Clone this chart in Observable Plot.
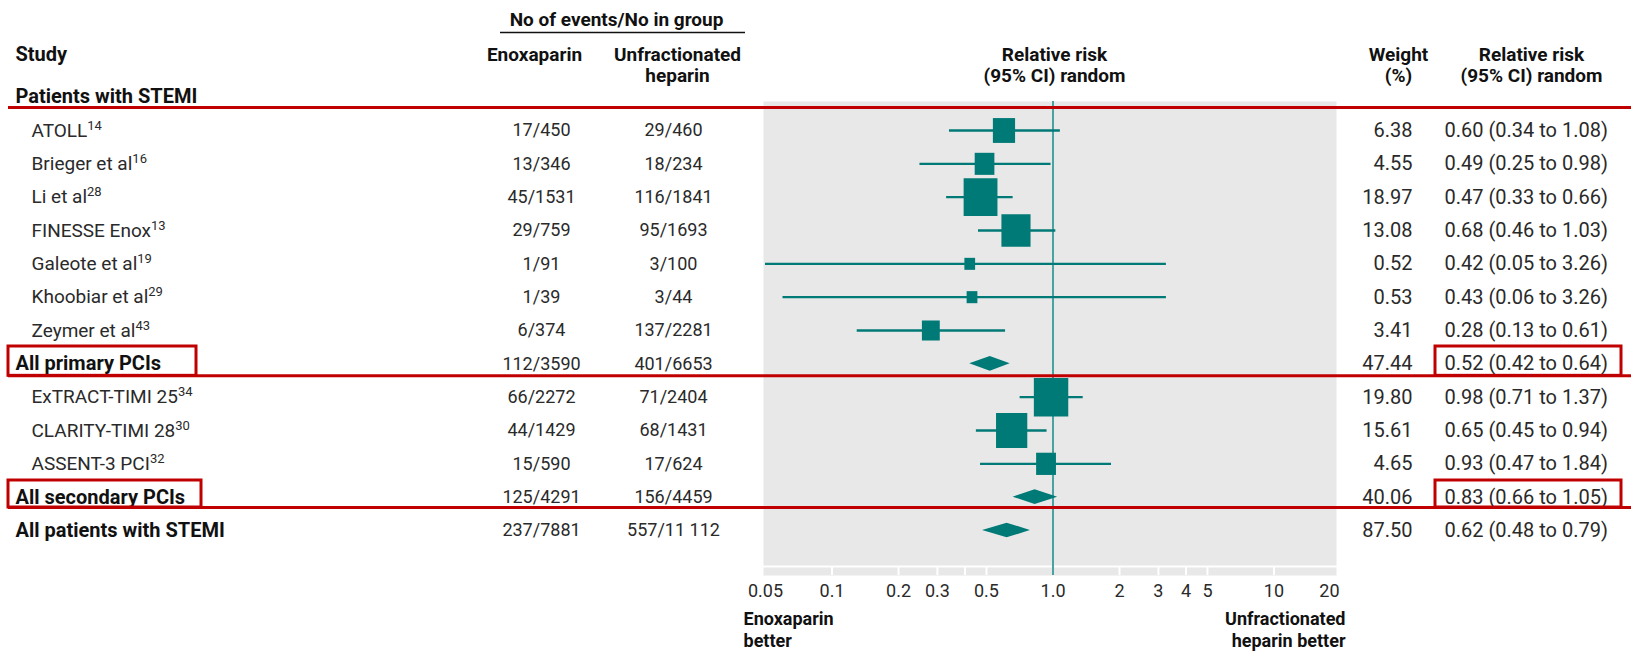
<!DOCTYPE html>
<html><head><meta charset="utf-8">
<script src="https://cdn.jsdelivr.net/npm/d3@7"></script>
<script src="https://cdn.jsdelivr.net/npm/@observablehq/plot@0.6"></script>
<style>
body{margin:0;background:#fff;}
#chart svg text{font-family:Roboto,"DejaVu Sans",sans-serif;}
</style></head><body><div id="chart"></div>
<script>
// ---- data ----
const studies = ["ATOLL","Brieger et al","Li et al","FINESSE Enox","Galeote et al","Khoobiar et al","Zeymer et al","All primary PCIs","ExTRACT-TIMI 25","CLARITY-TIMI 28","ASSENT-3 PCI","All secondary PCIs","All patients with STEMI"];
const refs = ["14","16","28","13","19","29","43","","34","30","32","",""];
const enoxEvents = ["17/450","13/346","45/1531","29/759","1/91","1/39","6/374","112/3590","66/2272","44/1429","15/590","125/4291","237/7881"];
const ufhEvents = ["29/460","18/234","116/1841","95/1693","3/100","3/44","137/2281","401/6653","71/2404","68/1431","17/624","156/4459","557/11 112"];
const weights = [6.38,4.55,18.97,13.08,0.52,0.53,3.41,47.44,19.80,15.61,4.65,40.06,87.50];
const rr = [0.60,0.49,0.47,0.68,0.42,0.43,0.28,0.52,0.98,0.65,0.93,0.83,0.62];
const lo = [0.34,0.25,0.33,0.46,0.05,0.06,0.13,0.42,0.71,0.45,0.47,0.66,0.48];
const hi = [1.08,0.98,0.66,1.03,3.26,3.26,0.61,0.64,1.37,0.94,1.84,1.05,0.79];
const pooled = [false,false,false,false,false,false,false,true,false,false,false,true,true];
const tickValues = [0.05,0.1,0.2,0.3,0.5,1,2,3,4,5,10,20];
const tickLabels = ["0.05","0.1","0.2","0.3","0.5","1.0","2","3","4","5","10","20"];
const gapTicks = [0.1,0.2,0.3,0.4,0.5,2,3,4,5,10];

// ---- build ----
const teal = "#007a77", red = "#c00000", grey = "#e8e8e8", ink = "#2a2a2a";
const rows = studies.map((s,i)=>({i, study:s, ref:refs[i], enox:enoxEvents[i], ufh:ufhEvents[i], w:weights[i], rr:rr[i], lo:lo[i], hi:hi[i], pooled:pooled[i]}));
const trials = rows.filter(d=>!d.pooled);
const pools = rows.filter(d=>d.pooled);
const dh = 0.22;
const diamonds = pools.flatMap(d=>[
  {i:d.i, y:d.i-dh, x1:d.rr, x2:d.rr},
  {i:d.i, y:d.i, x1:d.lo, x2:d.hi},
  {i:d.i, y:d.i+dh, x1:d.rr, x2:d.rr}]);
const box = {draw(ctx, size){const w=Math.sqrt(size)/2, h=w*1.12; ctx.moveTo(-w,-h); ctx.lineTo(w,-h); ctx.lineTo(w,h); ctx.lineTo(-w,h); ctx.closePath();}};
const bold = {fontWeight:"bold", fill:"#111"};
const label = (t, x, y, o={}) => Plot.text([t], {text:d=>d, frameAnchor:"top-left", dx:x, dy:y, lineAnchor:"middle", fontSize:19, ...bold, ...o});
const hline = (yv, l, r, o={}) => Plot.ruleY([yv], {insetLeft:l, insetRight:1631-r, stroke:red, strokeWidth:3, ...o});
const nTicks = tickValues.length;

const chart = Plot.plot({
  width:1631, height:654, margin:0,
  x:{type:"log", domain:[0.05,20], range:[765,1340], axis:null},
  y:{domain:[0,12], range:[130,530], axis:null},
  r:{type:"sqrt", domain:[0.5,20], range:[6,19.5]},
  style:{fontSize:"18px", background:"#fff"},
  marks:[
    Plot.frame({fill:grey, stroke:"none", insetLeft:763, insetRight:295, insetTop:101, insetBottom:89}),
    Plot.frame({fill:grey, stroke:"none", insetLeft:763, insetRight:295, insetTop:567, insetBottom:79}),
    Plot.ruleX(gapTicks, {stroke:"white", strokeWidth:2, insetTop:567, insetBottom:79}),
    Plot.ruleX([1], {stroke:"#49a3a0", strokeWidth:2, insetTop:101, insetBottom:79}),
    Plot.ruleY(trials, {y:"i", x1:"lo", x2:"hi", stroke:teal, strokeWidth:2.4}),
    Plot.dot(trials, {x:"rr", y:"i", r:"w", symbol:box, fill:teal, stroke:"none"}),
    Plot.areaX(diamonds, {y:"y", x1:"x1", x2:"x2", z:"i", fill:teal}),
    // axis tick labels
    Plot.text(tickValues.slice(0, nTicks-1), {x:d=>d, text:(d,i)=>tickLabels[i], frameAnchor:"top", dy:591, lineAnchor:"middle", fill:ink, fontSize:18}),
    Plot.text(tickValues.slice(nTicks-1), {x:d=>d, text:()=>tickLabels[nTicks-1], frameAnchor:"top", dy:591, dx:-1, lineAnchor:"middle", textAnchor:"end", fill:ink, fontSize:18}),
    // table columns
    Plot.text(trials, {y:"i", text:d=>d.study+"^"+d.ref, frameAnchor:"left", dx:31, textAnchor:"start", fill:ink, fontSize:19, style:{letterSpacing:"0.4px"}}),
    Plot.text(pools, {y:"i", text:"study", frameAnchor:"left", dx:15, textAnchor:"start", fontSize:20, ...bold, style:{letterSpacing:"0.3px"}}),
    Plot.text(rows, {y:"i", text:"enox", frameAnchor:"left", dx:541, textAnchor:"middle", fill:ink, fontSize:18}),
    Plot.text(rows, {y:"i", text:"ufh", frameAnchor:"left", dx:673, textAnchor:"middle", fill:ink, fontSize:18}),
    Plot.text(rows, {y:"i", text:d=>d.w.toFixed(2), frameAnchor:"left", dx:1412, textAnchor:"end", fill:ink, fontSize:20, style:{letterSpacing:"0.8px"}}),
    Plot.text(rows, {y:"i", text:d=>`${d.rr.toFixed(2)} (${d.lo.toFixed(2)} to ${d.hi.toFixed(2)})`, frameAnchor:"left", dx:1444, textAnchor:"start", fill:ink, fontSize:20, style:{letterSpacing:"0.6px"}}),
    // headers
    label("No of events/No in group", 616, 19, {textAnchor:"middle"}),
    Plot.ruleY([-2.94], {insetLeft:500, insetRight:1631-745, stroke:"#111", strokeWidth:1.5}),
    label("Study", 15, 54, {textAnchor:"start", fontSize:20}),
    label("Enoxaparin", 534, 54, {textAnchor:"middle"}),
    label("Unfractionated", 677, 54, {textAnchor:"middle"}),
    label("heparin", 677, 75, {textAnchor:"middle"}),
    label("Relative risk", 1054, 54, {textAnchor:"middle"}),
    label("(95% CI) random", 1054, 75, {textAnchor:"middle"}),
    label("Weight", 1398, 54, {textAnchor:"middle"}),
    label("(%)", 1398, 75, {textAnchor:"middle"}),
    label("Relative risk", 1531, 54, {textAnchor:"middle"}),
    label("(95% CI) random", 1531, 75, {textAnchor:"middle"}),
    label("Patients with STEMI", 15, 96, {textAnchor:"start", fontSize:20}),
    label("Enoxaparin", 743, 619, {textAnchor:"start", fontSize:18}),
    label("better", 743, 641, {textAnchor:"start", fontSize:18}),
    label("Unfractionated", 1345, 619, {textAnchor:"end", fontSize:18}),
    label("heparin better", 1345, 641, {textAnchor:"end", fontSize:18}),
    // red highlights
    hline(-0.69, 8, 1631),
    hline(7.36, 8, 1631),
    hline(11.31, 8, 1631),
    Plot.rect([7], {y1:d=>d-0.52, y2:d=>d+0.36, insetLeft:8, insetRight:1631-196, stroke:red, strokeWidth:3, fill:"none"}),
    Plot.rect([11], {y1:d=>d-0.5, y2:d=>d+0.31, insetLeft:8, insetRight:1631-201, stroke:red, strokeWidth:3, fill:"none"}),
    Plot.rect([7], {y1:d=>d-0.52, y2:d=>d+0.36, insetLeft:1435, insetRight:10, stroke:red, strokeWidth:3, fill:"none"}),
    Plot.rect([11], {y1:d=>d-0.5, y2:d=>d+0.31, insetLeft:1435, insetRight:10, stroke:red, strokeWidth:3, fill:"none"})
  ]
});
// superscript reference numbers
chart.querySelectorAll("text").forEach(t=>{
  const s = t.textContent;
  if (s.includes("^")) {
    const [main, sup] = s.split("^");
    t.textContent = main;
    const ts = document.createElementNS("http://www.w3.org/2000/svg","tspan");
    ts.setAttribute("dy","-7"); ts.setAttribute("font-size","13");
    ts.textContent = sup;
    t.appendChild(ts);
  }
});
document.getElementById("chart").appendChild(chart);
</script></body></html>
